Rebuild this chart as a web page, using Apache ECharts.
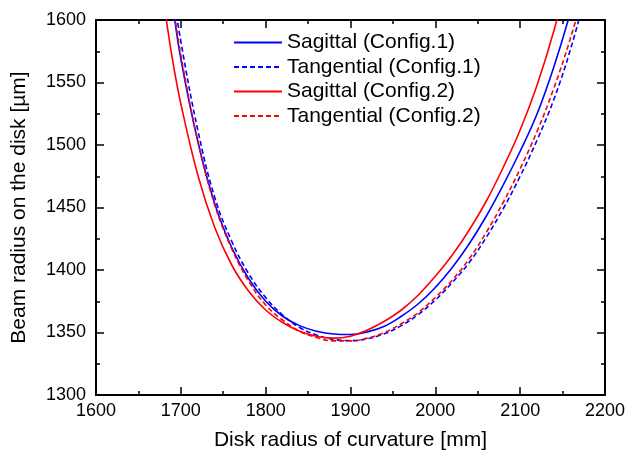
<!DOCTYPE html>
<html>
<head>
<meta charset="utf-8">
<script src="https://cdn.jsdelivr.net/npm/echarts@6/dist/echarts.min.js"></script>
<style>
  html, body { margin: 0; padding: 0; background: #fff; }
  #chart { width: 628px; height: 456px; }
</style>
</head>
<body>
<div id="chart"></div>
<script>
// Disk radius of curvature [mm]
const radius = [1680, 1690, 1700, 1720, 1740, 1760, 1780, 1800, 1820, 1840, 1860, 1880, 1900,
  1920, 1940, 1960, 1980, 2000, 2020, 2040, 2060, 2080, 2100, 2120, 2140, 2160, 2180];

// Beam radius on the disk [µm]
const sagittal1 = [1665, 1614, 1569, 1503, 1453, 1418, 1393, 1375, 1363, 1355.5, 1351, 1348.8, 1348.4,
  1350.5, 1355, 1363, 1373, 1386, 1402, 1421, 1443, 1468, 1495, 1525, 1563, 1608, 1660];
const tangential1 = [1680, 1628, 1583, 1512, 1458, 1423, 1397, 1378, 1364, 1354, 1348, 1344.5, 1343.5,
  1345, 1349, 1355.5, 1364.5, 1376, 1390, 1406, 1426, 1449, 1475, 1504, 1537, 1578, 1628];
const sagittal2 = [1614, 1569, 1533, 1476, 1434, 1404, 1383, 1368, 1358, 1351, 1347, 1345.5, 1347,
  1352, 1359, 1368, 1380, 1395, 1412, 1432, 1455, 1482, 1512, 1548, 1592, 1645, 1710];
const tangential2 = [1668, 1617, 1572, 1503, 1452, 1417, 1391, 1372, 1360, 1351, 1346, 1343.3, 1343.3,
  1345.5, 1350, 1357, 1366, 1378, 1392, 1409, 1430, 1454, 1481, 1511, 1546, 1587, 1635];

const xTicks = { min: 1600, max: 2200, interval: 100 };
const yTicks = { min: 1300, max: 1600, interval: 50 };

const seriesDefs = [
  { name: 'Sagittal (Config.1)', values: sagittal1, color: '#0000ff', dash: 'solid' },
  { name: 'Tangential (Config.1)', values: tangential1, color: '#0000ff', dash: [5, 3] },
  { name: 'Sagittal (Config.2)', values: sagittal2, color: '#ff0000', dash: 'solid' },
  { name: 'Tangential (Config.2)', values: tangential2, color: '#ff0000', dash: [5, 3] }
];

const font = 'Liberation Sans, Arial, sans-serif';

// Boxed frame: every side carries inward major and minor ticks
function frameAxis(base, position, showLabels, margin) {
  return Object.assign({
    type: 'value',
    position: position,
    axisLine: { show: true, onZero: false, lineStyle: { color: '#000', width: 2 } },
    axisTick: { show: true, inside: true, length: 8, lineStyle: { color: '#000', width: 1.5 } },
    minorTick: { show: true, splitNumber: 2, length: 4, lineStyle: { color: '#000', width: 1.5 } },
    splitLine: { show: false },
    axisLabel: {
      show: showLabels, color: '#000', fontFamily: font, fontSize: 18, margin: margin,
      formatter: v => String(v)
    }
  }, base);
}

const chart = echarts.init(document.getElementById('chart'), null, { renderer: 'canvas' });

chart.setOption({
  animation: false,
  backgroundColor: '#fff',
  grid: { left: 96, right: 22, top: 20, bottom: 58 },
  legend: {
    left: 228, top: 27, orient: 'vertical',
    itemWidth: 48, itemHeight: 14, itemGap: 3.5,
    itemStyle: { opacity: 0 },
    textStyle: { color: '#000', fontFamily: font, fontSize: 21 },
    data: seriesDefs.map(s => s.name)
  },
  xAxis: [
    frameAxis(Object.assign({
      name: 'Disk radius of curvature [mm]', nameLocation: 'middle', nameGap: 35,
      nameTextStyle: { color: '#000', fontFamily: font, fontSize: 21 }
    }, xTicks), 'bottom', true, 7),
    frameAxis(Object.assign({}, xTicks), 'top', false, 7)
  ],
  yAxis: [
    frameAxis(Object.assign({
      name: 'Beam radius on the disk [µm]', nameLocation: 'middle', nameGap: 66,
      nameTextStyle: { color: '#000', fontFamily: font, fontSize: 21 }
    }, yTicks), 'left', true, 10),
    frameAxis(Object.assign({}, yTicks), 'right', false, 10)
  ],
  series: seriesDefs.map(s => ({
    name: s.name,
    type: 'line',
    xAxisIndex: 0, yAxisIndex: 0,
    data: radius.map((r, i) => [r, s.values[i]]),
    smooth: 0.4,
    symbol: 'none', clip: true,
    itemStyle: { color: s.color },
    lineStyle: { color: s.color, width: 1.6, type: s.dash }
  }))
});
</script>
</body>
</html>
